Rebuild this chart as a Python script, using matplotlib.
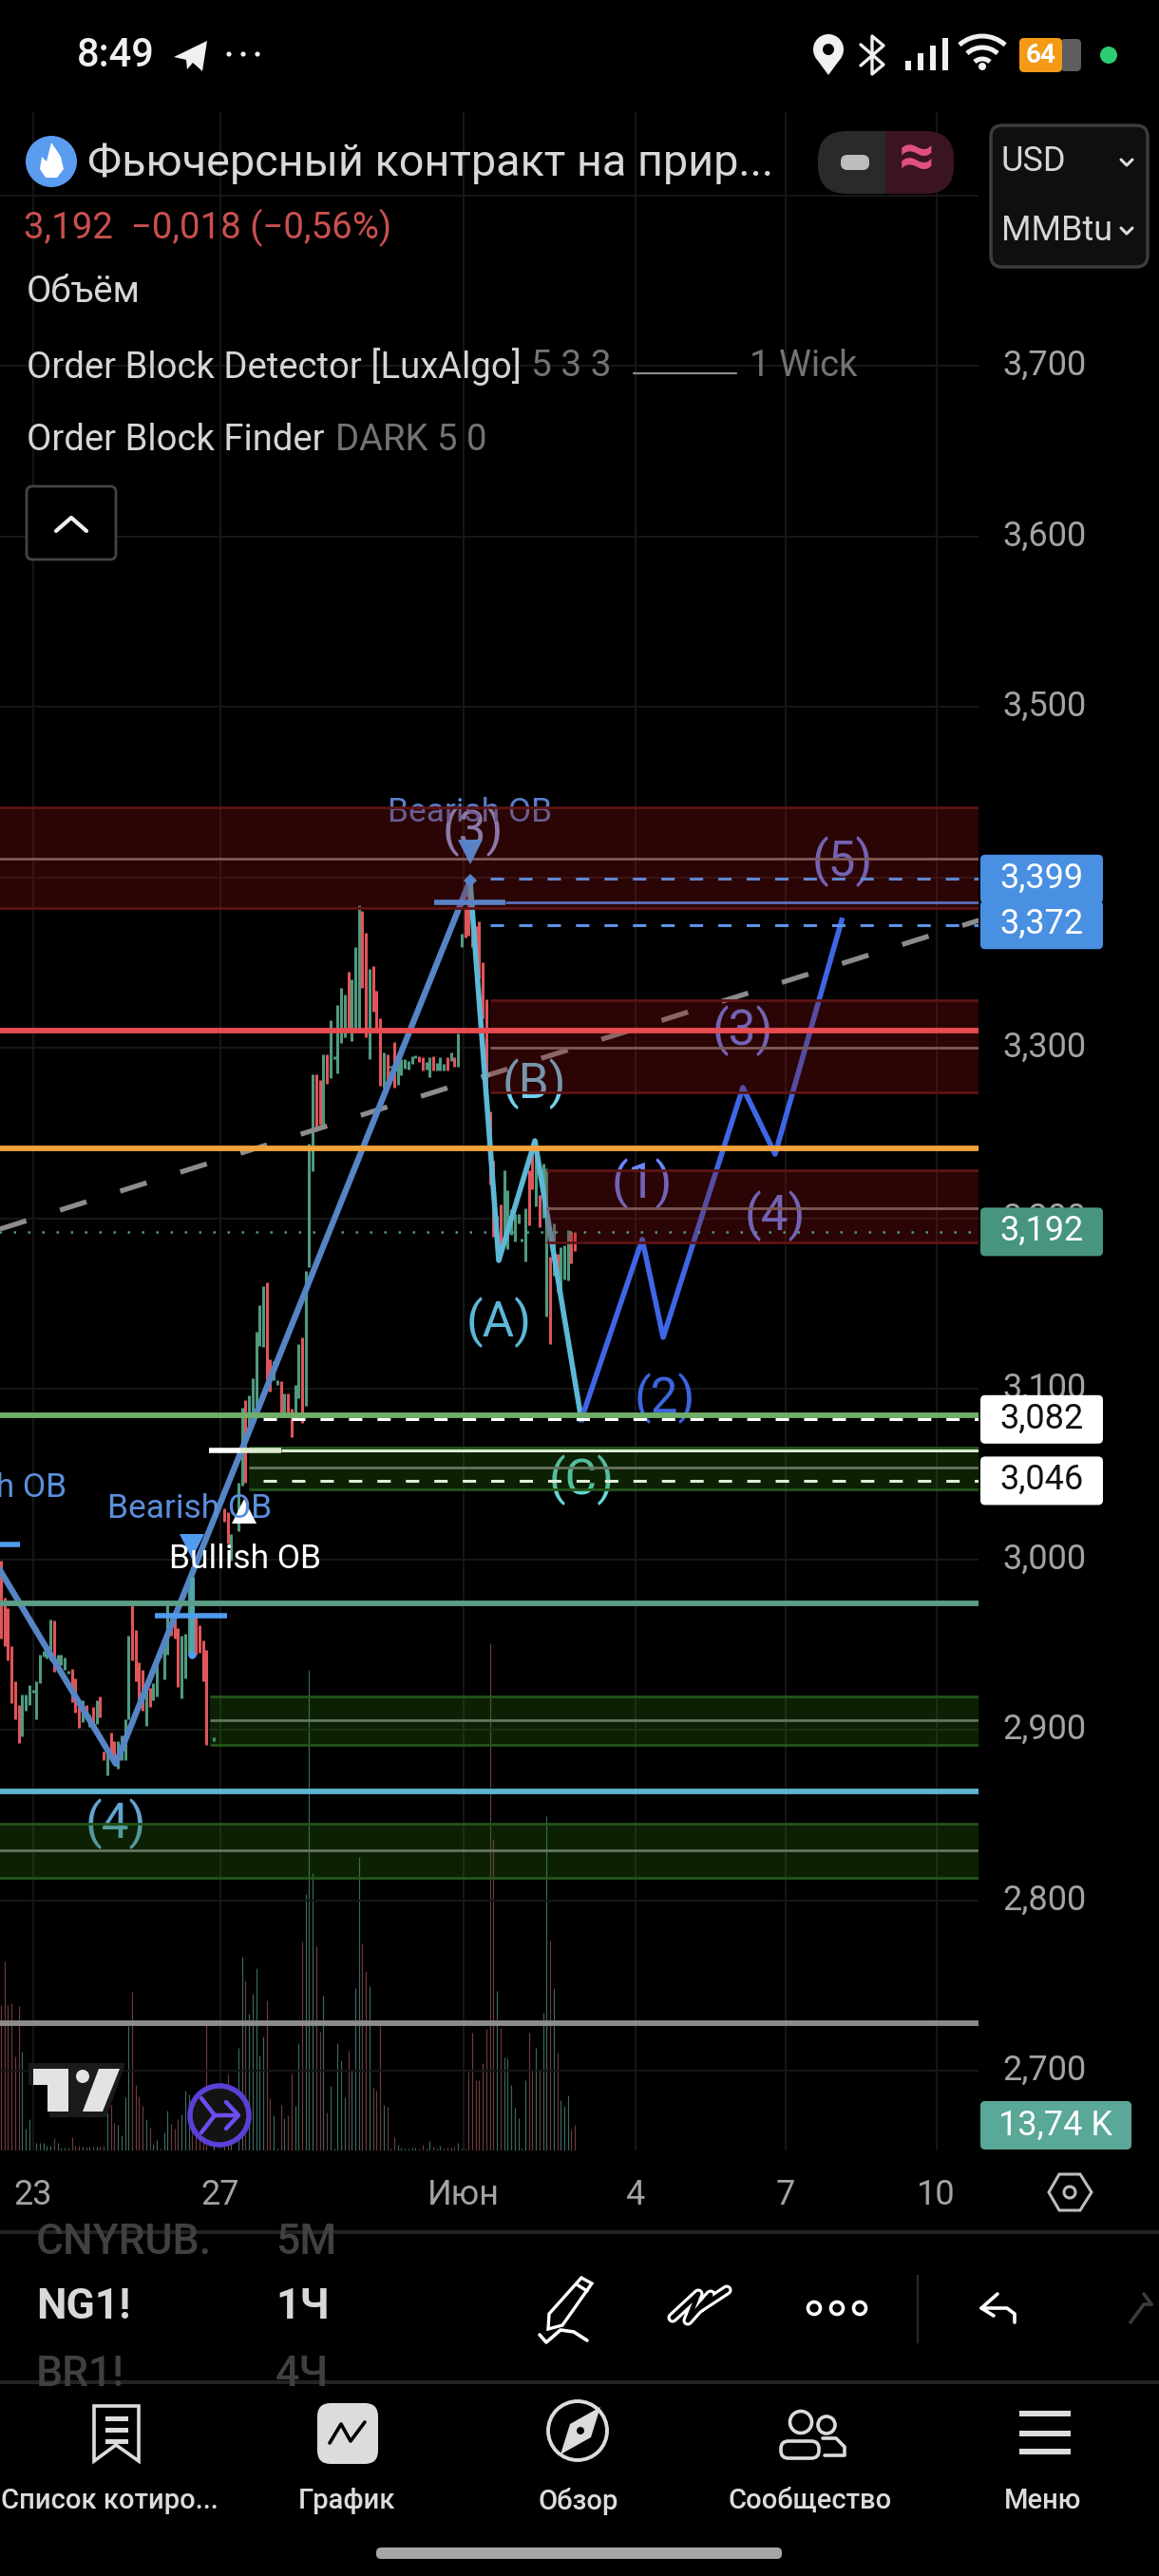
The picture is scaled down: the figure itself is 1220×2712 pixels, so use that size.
#! usr/bin/env python
import numpy as np
import matplotlib
matplotlib.use("Agg")
import matplotlib.pyplot as plt
from matplotlib.patches import Arc, Circle, FancyBboxPatch, Polygon, Rectangle
from matplotlib.ticker import FixedLocator, FixedFormatter
from matplotlib.transforms import ScaledTranslation

plt.rcParams['font.family'] = ['Roboto', 'DejaVu Sans']

# hourly bars, prices in thousandths of a dollar, volume in thousands
bar_idx = list(range(0, 59)) + [60, 63, 64, 65] + list(range(67, 163))
bar_side = ("rrrrrrggggggggg" "rggggrrr" "grgrgrr" "grrgggg" "rrrr" "grggrgg" "rrr" "ggg" "rrrrr"
            "g" "rrg" "ggr" "ggggg" "rr" "ggrgrrggrggg" "rr" "gr" "ggggg" "r" "ggg" "rr" "g" "rrr" "grgr"
            "gggggg" "rr" "gg" "r" "ggg" "r" "g" "r" "gg" "rrrrrrrrr" "g" "r" "ggggggg" "rr" "g" "r" "gg" "r" "g" "r" "ggg")
bar_high = [2999.2, 2977.5, 2971.3, 2949.0, 2928.4, 2914.5, 2920.6, 2920.6, 2926.2, 2923.4,
            2928.4, 2944.0, 2946.2, 2948.0, 2964.6, 2964.1, 2944.0, 2944.0, 2942.3, 2934.6,
            2935.7, 2930.1, 2917.3, 2917.3, 2914.5, 2908.9, 2913.4, 2917.3, 2919.5, 2887.2,
            2886.6, 2898.4, 2893.3, 2893.3, 2896.7, 2906.1, 2955.2, 2974.1, 2958.5, 2939.6,
            2935.1, 2928.4, 2924.5, 2927.3, 2943.5, 2949.0, 2949.0, 2974.1, 2968.5, 2965.7,
            2959.6, 2955.2, 2956.3, 2989.7, 2988.6, 2967.4, 2961.3, 2952.4, 2946.8,
            2895.6, 3029.8, 3027.6, 3014.8,
            3044.9, 3088.9, 3093.3, 3096.1, 3106.1, 3133.4, 3149.0, 3160.2, 3162.4, 3117.3,
            3116.2, 3105.0, 3104.5, 3097.2, 3097.2, 3088.3, 3102.3, 3126.2, 3130.1, 3169.1,
            3243.8, 3284.4, 3284.4, 3281.1, 3296.1, 3296.1, 3316.2, 3295.0, 3325.1, 3335.1,
            3331.2, 3344.6, 3340.1, 3359.1, 3383.6, 3380.3, 3367.4, 3346.3, 3347.9, 3333.4,
            3317.3, 3297.2, 3296.1, 3289.4, 3303.4, 3293.3, 3293.3, 3293.3, 3292.2, 3295.0,
            3295.6, 3295.0, 3294.5, 3291.7, 3294.5, 3295.0, 3291.1, 3294.5, 3290.5, 3294.5,
            3297.2, 3294.5, 3308.4, 3366.9, 3381.4, 3399.2, 3386.9, 3371.3, 3374.1, 3350.1,
            3328.4, 3262.7, 3233.7, 3201.4, 3208.1, 3228.1, 3216.4, 3205.3, 3202.5, 3202.5,
            3188.0, 3205.9, 3228.1, 3240.4, 3246.0, 3213.7, 3232.0, 3229.3, 3177.5, 3197.0,
            3179.1, 3183.0, 3184.1, 3193.1, 3191.9, 3192.0]
bar_low = [2953.5, 2949.0, 2940.7, 2915.6, 2906.1, 2892.2, 2896.1, 2911.2, 2914.5, 2921.7,
           2906.1, 2927.3, 2942.9, 2942.0, 2940.7, 2934.0, 2934.0, 2937.9, 2935.1, 2932.9,
           2916.2, 2910.0, 2901.2, 2904.5, 2906.1, 2901.7, 2902.3, 2903.4, 2907.2, 2882.2,
           2873.3, 2885.0, 2880.0, 2877.2, 2882.2, 2882.2, 2906.1, 2940.7, 2928.4, 2915.6,
           2911.2, 2902.3, 2913.4, 2917.3, 2919.5, 2942.3, 2929.5, 2944.0, 2955.2, 2953.5,
           2925.1, 2918.4, 2930.1, 2944.0, 2950.7, 2944.0, 2945.1, 2928.4, 2891.1,
           2893.3, 3022.0, 3009.2, 2999.2,
           3016.4, 3043.2, 3044.9, 3073.3, 3084.4, 3090.0, 3125.1, 3124.5, 3105.0, 3098.3,
           3105.0, 3102.3, 3085.5, 3083.3, 3086.1, 3071.6, 3082.8, 3094.4, 3080.0, 3090.0,
           3171.3, 3227.6, 3251.0, 3254.9, 3254.9, 3278.9, 3282.2, 3293.3, 3285.0, 3302.8,
           3306.1, 3311.2, 3303.9, 3310.0, 3311.2, 3335.1, 3306.1, 3293.3, 3321.2, 3311.7,
           3277.7, 3276.6, 3278.3, 3288.3, 3276.6, 3278.3, 3283.8, 3287.8, 3287.2, 3290.5,
           3293.9, 3291.7, 3286.6, 3287.2, 3282.8, 3286.6, 3286.6, 3286.6, 3286.6, 3286.6,
           3292.2, 3288.9, 3288.9, 3359.1, 3364.6, 3365.7, 3359.1, 3347.4, 3340.7, 3317.3,
           3262.7, 3219.8, 3189.1, 3190.3, 3180.2, 3187.5, 3181.9, 3190.3, 3186.4, 3197.0,
           3186.4, 3174.7, 3195.8, 3217.0, 3207.0, 3194.7, 3200.3, 3142.4, 3126.2, 3166.3,
           3156.8, 3156.8, 3164.1, 3163.5, 3173.6, 3180.8]
bar_vol = [77.9, 101.3, 77.9, 78.9, 50.4, 77.4, 52.9, 11.7, 16.8, 2.5,
           4.1, 4.1, 4.1, 2.5, 2.5, 6.6, 4.1, 1.5, 1.5, 1.5,
           7.1, 2.5, 2.5, 2.0, 2.0, 2.0, 2.0, 2.0, 2.0, 2.4,
           20.4, 24.4, 14.8, 13.7, 8.1, 28.5, 66.7, 85.0, 35.1, 29.0,
           23.9, 16.8, 12.2, 3.6, 5.6, 1.2, 9.7, 21.4, 14.3, 11.7,
           16.8, 19.3, 32.1, 30.0, 22.9, 15.3, 10.2, 15.3, 69.7,
           3.1, 15.3, 41.2, 30.5,
           55.0, 103.8, 91.1, 73.3, 84.0, 97.7, 50.9, 61.1, 80.4, 28.0,
           18.8, 1.0, 24.4, 17.3, 18.8, 41.2, 23.9, 57.5, 112.0, 137.4,
           257.6, 148.6, 109.4, 63.6, 83.0, 20.4, 34.6, 1.0, 57.5, 48.4,
           28.5, 53.4, 42.8, 87.0, 157.3, 111.0, 96.2, 88.1, 33.6, 32.1,
           69.7, 24.4, 23.4, 1.0, 7.1, 3.1, 1.5, 1.0, 1.0, 1.5,
           1.5, 1.0, 3.1, 1.0, 5.1, 2.0, 1.0, 2.5, 1.0, 1.5,
           1.5, 2.0, 4.1, 1.0, 1.0, 42.2, 63.1, 37.7, 37.7, 46.8,
           65.2, 271.8, 167.0, 85.5, 65.7, 49.9, 49.4, 35.1, 22.9, 17.3,
           1.0, 37.7, 63.1, 42.2, 55.0, 43.3, 73.8, 179.2, 112.5, 87.0,
           52.4, 27.0, 23.9, 29.5, 11.2, 13.74]

# order block zones: start bar, top, middle, bottom
red_zones = [(-1, 3441, 3411, 3382), (138, 3328, 3300, 3274), (154, 3228, 3206, 3186)]
green_zones = [(70, 3065.5, 3053.8, 3041), (59, 2919.5, 2905.6, 2891), (-1, 2845, 2829.3, 2813)]

level_prices = [3310, 3241, 3084.4, 2974, 2863.8, 2727.9]
level_colors = ["#e84b50", "#f0a23c", "#6fae68", "#5a9e85", "#5cb4d2", "#8c8c8c"]

# elliott wave counts drawn over the bars
steel_x, steel_y = [-0.3, 32.4, 132.4], [2993.6, 2880, 3398]
abc_x, abc_y = [132.4, 140.5, 150.7, 163.8], [3398, 3175.2, 3245.4, 3082]
impulse_x = [163.8, 181, 186.9, 209.4, 218.5, 237.3]
impulse_y = [3082, 3187.5, 3130.1, 3276.6, 3237.6, 3374.7]
wave_labels = ["(3)", "(B)", "(A)", "(1)", "(2)", "(3)", "(4)", "(5)", "(C)", "(4)"]
wave_label_x = [133.2, 150.4, 140.5, 181, 187.4, 209.4, 218.5, 237.5, 163.8, 32.4]
wave_label_y = [3427, 3279, 3139, 3220, 3094.4, 3310, 3201.4, 3409, 3046.5, 2844.9]
wave_label_c = ["#8fa8ea", "#6fd2f0", "#5cb8d6", "#6a88ff", "#3e64e0", "#6a88ff", "#6a88ff", "#6a88ff",
                "#63d6d0", "#62a4d0"]

trend_x, trend_y = [-0.3, 276], [3193.6, 3374.7]

price_ticks = [2700, 2800, 2900, 3000, 3100, 3200, 3300, 3400, 3500, 3600, 3700, 3800]
date_ticks = [9.1, 61.9, 130.6, 179, 221.4, 264]
date_labels = ["23", "27", "Июн", "4", "7", "10"]

BLACK = "#000000"
GRID = "#161616"
W, H = 1220, 2712


def px_y(price):
    """Screen row of a price on the chart scale."""
    return 385 + (3700 - price) * 1.795


def add_zone(ax, start, top, mid, bottom, fill, edge, middle, alpha):
    x = [start, 276]
    ax.fill_between(x, bottom, top, color=fill, alpha=alpha, lw=0, zorder=4)
    ax.hlines([top, bottom], start, 276, colors=edge, lw=2.0, zorder=4)
    ax.hlines(mid, start, 276, colors=middle, lw=2.0, zorder=4)


fig = plt.figure(figsize=(W / 100, H / 100), dpi=100, facecolor=BLACK)
rect = [0, (H - 2264) / H, 1030 / W, (2264 - 118) / H]

# volume sits in its own axes below the prices
ax_vol = fig.add_axes(rect, zorder=1, facecolor=BLACK)
ax = fig.add_axes(rect, zorder=2, facecolor="none")
xlim = (-0.268, 275.9)
ax.set_xlim(xlim)
ax_vol.set_xlim(xlim)
ax.set_ylim(3700 - (2264 - 385) / 1.795, 3700 + (385 - 118) / 1.795)
ax_vol.set_ylim(0, (2264 - 118) * 0.509)
ax_vol.axis("off")

sides = np.array(list(bar_side))
colors = np.where(sides == "g", "#4f9a80", "#e0555a")
vol_colors = np.where(sides == "g", "#3a6a5e", "#6e3c3a")
ax_vol.vlines(bar_idx, 0, bar_vol, colors=vol_colors, lw=0.85)

for side in ax.spines.values():
    side.set_visible(False)
ax.yaxis.tick_right()
ax.yaxis.set_major_locator(FixedLocator(price_ticks))
ax.yaxis.set_major_formatter(FixedFormatter([("%.3f" % (p / 1000)).replace(".", ",") for p in price_ticks]))
ax.xaxis.set_major_locator(FixedLocator(date_ticks))
ax.xaxis.set_major_formatter(FixedFormatter(date_labels))
ax.tick_params(axis="y", length=0, pad=18, labelsize=26, labelcolor="#a3a3a3")
ax.tick_params(axis="x", length=0, pad=21, labelsize=26, labelcolor="#a3a3a3")
ax.grid(True, color=GRID, lw=1.5, zorder=0)
ax.set_axisbelow(True)
# price labels ride a little above their grid lines
lift = ScaledTranslation(0, 4 / 100, fig.dpi_scale_trans)
for t in ax.get_yticklabels():
    t.set_transform(t.get_transform() + lift)

ax.vlines(bar_idx, bar_low, bar_high, colors=colors, lw=2.2, zorder=2)

# wave lines and their labels stay under the translucent zones
ax.plot(trend_x, trend_y, color="#8c8c8c", lw=3.8, dashes=(5.53, 7.05), dash_capstyle="butt", zorder=3)
ax.plot(steel_x, steel_y, color="#5585c5", lw=4.6, solid_joinstyle="round", zorder=3)
ax.plot(abc_x, abc_y, color="#5cb8d6", lw=4.0, solid_joinstyle="round", zorder=3)
ax.plot(impulse_x, impulse_y, color="#3f66e6", lw=4.0, solid_joinstyle="round", zorder=3)
for lab, x, y, c in zip(wave_labels, wave_label_x, wave_label_y, wave_label_c):
    ax.text(x, y, lab, color=c, fontsize=37, ha="center", va="center", zorder=3)

for start, top, mid, bottom in red_zones:
    add_zone(ax, start, top, mid, bottom, "#8b1212", "#5e1414", "#7d5a56", 0.31)
for start, top, mid, bottom in green_zones:
    add_zone(ax, start, top, mid, bottom, "#2e7d12", "#23551a", "#66755f", 0.27)

ax.hlines(level_prices, -1, 276, colors=level_colors, lw=4.2, zorder=5)
ax.hlines(3192, -1, 276, colors="#4f9a80", lw=1.8, linestyles=(0, (1, 5)), zorder=5)
ax.hlines([3082, 3046], 74, 276, colors=["#ffffff", "#dff0d8"], lw=2.2, linestyles=(0, (4.6, 5.2)), zorder=5)
ax.hlines([3399, 3372], 138, 276, colors=["#5f86cf", "#5b93e6"], lw=2.2, linestyles=(0, (4.6, 5.2)), zorder=5)
ax.hlines(3385, 122.3, 142.4, colors="#5a82c8", lw=4, zorder=5)
ax.hlines(3385, 142.4, 276, colors="#5a6fc0", lw=2, zorder=5)
ax.hlines(2966.8, 43.4, 63.8, colors="#4f9cf0", lw=4, zorder=5)
ax.hlines(3008.7, -1, 5.4, colors="#4f9cf0", lw=4, zorder=5)
ax.hlines(3063.8, 58.7, 67.6, colors="#ffffff", lw=4, zorder=5)
ax.hlines(3063.8, 67.6, 79, colors="#dcebd0", lw=4, zorder=5)
ax.hlines(3063.8, 79, 276, colors="#dcebd0", lw=2.2, zorder=5)

ax.plot([68.6], [3028], "^", color="#ffffff", ms=19, mew=0, zorder=2.5)
ax.plot([53.9], [3007.5], "v", color="#4f9cf0", ms=19, mew=0, zorder=5)
ax.plot([132.4], [3415], "v", color="#5a82c8", ms=19, mew=0, zorder=5)
ax.plot([132.4], [3398], "D", color="#5a82c8", ms=7, mew=0, zorder=5)
ax.plot([53.9], [2944], "o", color="#4f9cf0", ms=6, mew=0, zorder=5)
ax.vlines(53.9, 2944, 2989.7, colors="#4ea6b0", lw=3.6, zorder=3)

ax.text(132.4, 3438, "Bearish OB", color="#5b7fc9", fontsize=25.5, ha="center", va="center", zorder=3)
ax.text(53.2, 3029.5, "Bearish OB", color="#5b8fdc", fontsize=25.5, ha="center", va="center", zorder=6)
ax.text(18.6, 3042, "Bearish OB", color="#5b8fdc", fontsize=25.5, ha="right", va="center", zorder=6)
ax.text(69, 3000, "Bullish OB", color="#ffffff", fontsize=25.5, ha="center", va="center", zorder=6)

# everything around the chart is laid out in screen pixels
ui = fig.add_axes([0, 0, 1, 1], zorder=5, facecolor="none")
ui.set_xlim(0, W)
ui.set_ylim(H, 0)
ui.axis("off")


def label(x, y, s, size=25, color="#d6d6d6", ha="left", weight="normal", clip=None):
    t = ui.text(x, y, s, fontsize=size, color=color, ha=ha, va="center", fontweight=weight)
    if clip is not None:
        t.set_clip_path(Rectangle((0, clip[0]), W, clip[1] - clip[0], transform=ui.transData))
    return t


def box(x0, y0, x1, y1, face, edge="none", lw=0, r=5):
    ui.add_patch(FancyBboxPatch((x0 + r, y0 + r), x1 - x0 - 2 * r, y1 - y0 - 2 * r,
                                boxstyle="round,pad=%d" % r, fc=face, ec=edge, lw=lw))


def line(xs, ys, c="#ffffff", lw=2.5):
    ui.plot(xs, ys, color=c, lw=lw, solid_capstyle="round", solid_joinstyle="round")


def price_tag(price, text, face, fg):
    y = px_y(price)
    box(1032, y - 25.5, 1161, y + 25.5, face)
    label(1096.5, y - 1, text, 26, fg, "center")


price_tag(3399, "3,399", "#4a90e2", "#ffffff")
price_tag(3372, "3,372", "#4a90e2", "#ffffff")
price_tag(3192, "3,192", "#48957f", "#ffffff")
price_tag(3082, "3,082", "#ffffff", "#111111")
price_tag(3046, "3,046", "#ffffff", "#111111")
box(1032, 2212, 1191, 2263, "#5aa897")
label(1111, 2238, "13,74 K", 26, "#ffffff", "center")

# status bar
label(81, 58, "8:49", 30, "#f0f0f0", weight="medium")
ui.add_patch(Polygon([(183, 60), (218, 43), (213, 75), (203, 66), (197, 73), (196, 63)], fc="#f0f0f0"))
for x in (241, 256, 271):
    ui.add_patch(Circle((x, 57), 2.6, fc="#f0f0f0"))
ui.add_patch(Circle((872, 52), 16, fc="#f0f0f0"))
ui.add_patch(Polygon([(858, 60), (886, 60), (872, 79)], fc="#f0f0f0"))
ui.add_patch(Circle((872, 52), 6, fc=BLACK))
line([906, 930, 918, 918, 930, 906], [47, 68, 78, 38, 48, 69], "#f0f0f0", 2.4)
for x, top in zip((953, 966, 979, 992), (64, 56, 48, 40)):
    ui.add_patch(Rectangle((x, top), 6, 74 - top, fc="#f0f0f0"))
for r in (12, 24, 36):
    ui.add_patch(Arc((1034, 74), 2 * r, 2 * r, theta1=228, theta2=312, color="#f0f0f0", lw=3.6))
ui.add_patch(Circle((1034, 70), 4, fc="#f0f0f0"))
box(1116, 41, 1138, 75, "#5e5e5e", r=5)
box(1073, 40, 1118, 76, "#f59a16", r=5)
label(1096, 58, "64", 20, "#ffffff", "center", "bold")
ui.add_patch(Circle((1167, 58), 9, fc="#2ecc71"))

# symbol header and legend lines
ui.add_patch(Circle((54, 170), 27, fc="#5a9cf0"))
ui.add_patch(Polygon([(54, 150), (64, 165), (67, 178), (60, 187), (48, 187), (42, 178), (44, 165), (49, 170)],
                     fc="#ffffff"))
label(92, 172, "Фьючерсный контракт на прир...", 33.7, "#d8d8d8")
box(861, 138, 1004, 204, "#2a2a2a", r=30)
box(932, 138, 1004, 204, "#3a1420", r=30)
ui.add_patch(Rectangle((932, 138), 30, 66, fc="#3a1420"))
box(885, 163, 915, 179, "#bdbdbd", r=7)
label(965, 168, "≈", 48, "#e0507f", "center", "bold")
box(1043, 132, 1208, 281, "#0f0f0f", "#3c3c3c", 2.5, r=12)
label(1054, 170, "USD", 26)
label(1054, 243, "MMBtu", 26)
for y in (171, 243):
    line([1180, 1186, 1192], [y - 3, y + 3, y - 3], "#dddddd", 2.2)

label(25, 240, "3,192  −0,018 (−0,56%)", 27.6, "#c9504f")
label(28, 308, "Объём", 27.5)
label(28, 386, "Order Block Detector [LuxAlgo]", 27.5)
label(559, 386, "5 3 3", 28, "#737373")
line([667, 775], [393, 393], "#8a8a8a", 1.6)
label(789, 386, "1 Wick", 27.5, "#737373")
label(28, 464, "Order Block Finder", 27.5)
label(353, 464, "DARK 5 0", 27.5, "#737373")
box(28, 512, 122, 589, BLACK, "#444444", 2, r=6)
line([59, 75, 91], [559, 545, 559], "#f0f0f0", 3)

# chart watermarks
ui.add_patch(Polygon([(30, 2172), (132, 2172), (112, 2229), (52, 2229), (52, 2195), (30, 2195)], fc="#1a1a1a"))
ui.add_patch(Polygon([(35, 2178), (72, 2178), (72, 2223), (50, 2223), (50, 2195), (35, 2195)], fc="#e3e3e3"))
ui.add_patch(Circle((87, 2186), 7, fc="#e3e3e3"))
ui.add_patch(Polygon([(104, 2178), (126, 2178), (108, 2223), (87, 2223)], fc="#e3e3e3"))
ui.add_patch(Circle((231, 2227), 31, fc="#131313", ec="#5b3fd6", lw=4))
line([212, 226, 250], [2209, 2227, 2227], "#6d4cf0", 3.2)
line([212, 226], [2245, 2227], "#6d4cf0", 3.2)
line([238, 251, 238], [2213, 2227, 2241], "#6d4cf0", 3.2)

# axis corner, panels below the chart
ui.add_patch(Polygon([(1115, 2289), (1137, 2289), (1149, 2308), (1137, 2327), (1115, 2327), (1104, 2308)],
                     fc="none", ec="#bdbdbd", lw=2.2))
ui.add_patch(Circle((1126, 2308), 6, fc="none", ec="#bdbdbd", lw=2.2))
ui.add_patch(Rectangle((0, 2348), W, 4, fc="#232323"))
ui.add_patch(Rectangle((0, 2506), W, 4, fc="#232323"))

label(38, 2361, "CNYRUB.", 32, "#404040", weight="medium", clip=(2352, 2395))
label(290, 2361, "5М", 32, "#404040", weight="medium", clip=(2352, 2395))
label(38, 2429, "NG1!", 32, "#d8d8d8", weight="bold")
label(290, 2429, "1Ч", 32, "#d8d8d8", weight="bold")
label(38, 2500, "BR1!", 32, "#404040", weight="medium", clip=(2460, 2506))
label(290, 2500, "4Ч", 32, "#404040", weight="medium", clip=(2460, 2506))

# drawing toolbar
ui.add_patch(Polygon([(612, 2398), (623, 2404), (592, 2448), (577, 2452), (578, 2436)], fc="none", ec="#ffffff", lw=2.4))
line([607, 618], [2405, 2412], "#ffffff", 2.4)
line([568, 575, 590, 604, 618], [2458, 2466, 2453, 2455, 2464], "#ffffff", 2.6)
line([708, 735, 724, 748, 736, 765], [2440, 2415, 2443, 2416, 2430, 2411], "#ffffff", 8)
line([708, 735, 724, 748, 736, 765], [2440, 2415, 2443, 2416, 2430, 2411], BLACK, 3.5)
for x in (857, 881, 905):
    ui.add_patch(Circle((x, 2430), 6.5, fc="none", ec="#ffffff", lw=2.6))
ui.add_patch(Rectangle((965, 2395), 2, 72, fc="#2a2a2a"))
line([1050, 1033, 1046], [2415, 2430, 2438], "#ffffff", 2.6)
line([1033, 1060, 1068, 1068], [2430, 2430, 2436, 2445], "#ffffff", 2.6)
line([1190, 1204, 1212], [2445, 2426, 2426], "#3c3c3c", 2.6)
line([1212, 1204], [2426, 2415], "#3c3c3c", 2.6)

# bottom navigation
nav_labels = ["Список котиро...", "График", "Обзор", "Сообщество", "Меню"]
nav_x = [115, 365, 609, 853, 1098]
for x, s in zip(nav_x, nav_labels):
    label(x, 2633, s, 21, "#dcdcdc", "center", "medium")
ui.add_patch(Polygon([(99, 2533), (146, 2533), (146, 2591), (122, 2574), (99, 2591)], fc="none", ec="#dcdcdc", lw=2.6))
for y in (2546, 2558, 2570):
    ui.add_patch(Rectangle((111, y - 2.5), 24, 5, fc="#dcdcdc"))
box(334, 2530, 398, 2594, "#dcdcdc", r=14)
line([347, 359, 369, 384], [2572, 2552, 2570, 2550], BLACK, 2.6)
ui.add_patch(Circle((608, 2559), 31, fc="none", ec="#dcdcdc", lw=2.8))
ui.add_patch(Polygon([(632, 2534), (622, 2566), (590, 2584), (600, 2552)], fc="#dcdcdc"))
ui.add_patch(Circle((611, 2559), 4, fc=BLACK))
ui.add_patch(Circle((843, 2550), 11.5, fc="none", ec="#dcdcdc", lw=2.6))
ui.add_patch(Circle((870, 2553), 9, fc="none", ec="#dcdcdc", lw=2.6))
box(822, 2570, 862, 2588, BLACK, "#dcdcdc", 2.6, r=8)
line([866, 880, 889, 889, 868], [2567, 2567, 2576, 2585, 2585], "#dcdcdc", 2.6)
for y in (2541, 2562, 2581):
    ui.add_patch(Rectangle((1073, y - 3), 54, 6, fc="#dcdcdc"))
box(396, 2682, 823, 2694, "#a6a6a6", r=5)

plt.savefig("out.png", dpi=100, facecolor=BLACK)
